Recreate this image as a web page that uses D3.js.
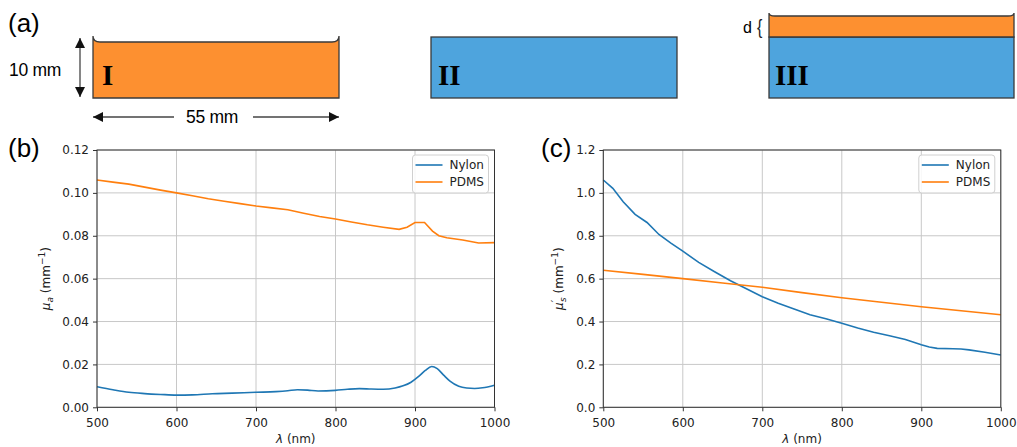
<!DOCTYPE html>
<html>
<head>
<meta charset="utf-8">
<script src="https://cdn.jsdelivr.net/npm/d3@7.9.0/dist/d3.min.js"></script>
<style>
  body { margin: 0; background: #fff; }
  svg { display: block; }
  .tick text { font-family: "DejaVu Sans", sans-serif; font-size: 12px; fill: #222; }
</style>
</head>
<body>
<svg id="fig" width="1017" height="447"></svg>
<script>
// wavelengths and values
const lamAbsNylon = [500, 520, 540, 560, 580, 600, 620, 645, 670, 700, 725, 740, 752, 765, 778, 800, 815, 830, 845, 860, 875, 885, 895, 905, 913, 921, 928, 936, 944, 955, 965, 975, 985, 1000];
const muaNylon = [0.0096, 0.0082, 0.0070, 0.0064, 0.0060, 0.0057, 0.0058, 0.0063, 0.0066, 0.0070, 0.0073, 0.0077, 0.0082, 0.0080, 0.0076, 0.0079, 0.0084, 0.0087, 0.0085, 0.0084, 0.0090, 0.0100, 0.0117, 0.0145, 0.0172, 0.0190, 0.0180, 0.0150, 0.0122, 0.0098, 0.0090, 0.0088, 0.0091, 0.0103];

const lamAbsPdms = [500, 520, 540, 560, 580, 600, 620, 640, 660, 680, 700, 720, 740, 760, 780, 800, 820, 840, 860, 880, 890, 900, 912, 922, 930, 940, 960, 980, 1000];
const muaPdms = [0.1060, 0.1050, 0.1041, 0.1027, 0.1013, 0.1000, 0.0987, 0.0973, 0.0961, 0.0950, 0.0939, 0.0930, 0.0921, 0.0905, 0.0890, 0.0878, 0.0864, 0.0851, 0.0840, 0.0830, 0.0840, 0.0862, 0.0862, 0.0822, 0.0800, 0.0791, 0.0780, 0.0766, 0.0768];

const lamScatNylon = [500, 512, 525, 540, 555, 570, 585, 600, 620, 640, 660, 680, 700, 720, 740, 760, 780, 800, 820, 840, 860, 880, 900, 910, 920, 940, 950, 960, 980, 1000];
const musNylon = [1.060, 1.021, 0.959, 0.900, 0.862, 0.806, 0.766, 0.728, 0.676, 0.632, 0.590, 0.553, 0.516, 0.485, 0.458, 0.432, 0.413, 0.392, 0.370, 0.350, 0.334, 0.316, 0.292, 0.281, 0.275, 0.273, 0.272, 0.268, 0.257, 0.244];

const lamScatPdms = [500, 550, 600, 650, 700, 750, 800, 850, 900, 950, 1000];
const musPdms = [0.639, 0.620, 0.600, 0.580, 0.560, 0.535, 0.511, 0.490, 0.469, 0.450, 0.432];

const xTicks = [500, 600, 700, 800, 900, 1000];
const yTicksB = [0, 0.02, 0.04, 0.06, 0.08, 0.10, 0.12];
const yTicksC = [0, 0.2, 0.4, 0.6, 0.8, 1.0, 1.2];
const seriesNames = ["Nylon", "PDMS"];
const seriesColors = ["#1f77b4", "#ff7f0e"];

const svg = d3.select("#fig");
const sans = "'Liberation Sans', Arial, sans-serif";

// ---------- panel (a): sample schematics ----------
const orange = "#fd9030", blue = "#4ea4dd", edge = "#3a3a3a";

svg.append("text").attr("x", 8).attr("y", 32).attr("font-family", sans)
  .attr("font-size", 26).text("(a)");

// sample I, top edge with a meniscus
svg.append("path")
  .attr("d", "M93,98 L93,36 Q93,42 100,42 L332,42 Q339,42 339,36 L339,98 Z")
  .attr("fill", orange).attr("stroke", edge).attr("stroke-width", 1.3);

// sample II
svg.append("rect").attr("x", 431).attr("y", 37).attr("width", 246).attr("height", 61)
  .attr("fill", blue).attr("stroke", edge).attr("stroke-width", 1.3);

// sample III: blue block with a thin orange layer on top
svg.append("rect").attr("x", 769).attr("y", 37).attr("width", 245).attr("height", 61)
  .attr("fill", blue).attr("stroke", edge).attr("stroke-width", 1.3);
svg.append("path")
  .attr("d", "M769,37 L769,13 Q769,16 775,16 L1008,16 Q1014,16 1014,13 L1014,37 Z")
  .attr("fill", orange).attr("stroke", edge).attr("stroke-width", 1.3);

const roman = [["I", 102], ["II", 438], ["III", 775]];
roman.forEach(([t, x]) => {
  svg.append("text").attr("x", x).attr("y", 85)
    .attr("font-family", "'Liberation Serif', 'Times New Roman', serif")
    .attr("font-weight", "bold").attr("font-size", 29).text(t);
});

// arrows
const defs = svg.append("defs");
defs.append("marker").attr("id", "head").attr("viewBox", "0 0 10 10")
  .attr("refX", 10).attr("refY", 5).attr("markerWidth", 10).attr("markerHeight", 10)
  .attr("markerUnits", "userSpaceOnUse").attr("orient", "auto-start-reverse")
  .append("path").attr("d", "M0,0 L10,5 L0,10 Z").attr("fill", "#111");

svg.append("line").attr("x1", 80).attr("y1", 38).attr("x2", 80).attr("y2", 97)
  .attr("stroke", "#444").attr("stroke-width", 1.3)
  .attr("marker-start", "url(#head)").attr("marker-end", "url(#head)");
svg.append("text").attr("x", 35).attr("y", 76).attr("text-anchor", "middle")
  .attr("font-family", sans).attr("font-size", 17.5).attr("letter-spacing", -0.3).text("10 mm");

svg.append("line").attr("x1", 174).attr("y1", 117).attr("x2", 93).attr("y2", 117)
  .attr("stroke", "#444").attr("stroke-width", 1.3).attr("marker-end", "url(#head)");
svg.append("line").attr("x1", 253).attr("y1", 117).attr("x2", 339).attr("y2", 117)
  .attr("stroke", "#444").attr("stroke-width", 1.3).attr("marker-end", "url(#head)");
svg.append("text").attr("x", 212).attr("y", 123).attr("text-anchor", "middle")
  .attr("font-family", sans).attr("font-size", 17.5).attr("letter-spacing", -0.3).text("55 mm");

svg.append("text").attr("x", 743).attr("y", 33).attr("font-family", sans)
  .attr("font-size", 16).text("d");
svg.append("text").attr("transform", "translate(757,34) scale(0.8,1)")
  .attr("font-family", sans).attr("fill", "#222")
  .attr("font-size", 20).text("{");

// ---------- panels (b) and (c) ----------
function drawPanel(opt) {
  const x = d3.scaleLinear().domain([500, 1000]).range([opt.left, opt.left + 397.5]);
  const y = d3.scaleLinear().domain([0, opt.ymax]).range([407.3, 150]);
  const g = svg.append("g");

  // grid
  g.append("g").selectAll("line").data(xTicks).join("line")
    .attr("x1", d => x(d)).attr("x2", d => x(d)).attr("y1", y(0)).attr("y2", y(opt.ymax))
    .attr("stroke", "#c8c8c8").attr("stroke-width", 1);
  g.append("g").selectAll("line").data(opt.yTicks).join("line")
    .attr("y1", d => y(d)).attr("y2", d => y(d)).attr("x1", x(500)).attr("x2", x(1000))
    .attr("stroke", "#c8c8c8").attr("stroke-width", 1);

  opt.series.forEach((s, i) => {
    const line = d3.line().x(d => x(d[0])).y(d => y(d[1])).curve(s.curve);
    g.append("path").datum(d3.zip(s.lam, s.val))
      .attr("d", line).attr("fill", "none")
      .attr("stroke", seriesColors[i]).attr("stroke-width", 1.6);
  });

  // axes
  const xAxis = g.append("g").attr("transform", `translate(0,${y(0)})`)
    .call(d3.axisBottom(x).tickValues(xTicks).tickFormat(d3.format("d")).tickSizeOuter(0).tickSize(4).tickPadding(4));
  const yAxis = g.append("g").attr("transform", `translate(${x(500)},0)`)
    .call(d3.axisLeft(y).tickValues(opt.yTicks).tickFormat(opt.fmt).tickSizeOuter(0).tickSize(4).tickPadding(4));
  [xAxis, yAxis].forEach(a => {
    a.select(".domain").remove();
    a.selectAll(".tick line").attr("stroke", "#333");
  });
  xAxis.selectAll(".tick text").attr("dy", "0.95em");

  g.append("rect").attr("x", x(500)).attr("y", y(opt.ymax))
    .attr("width", x(1000) - x(500)).attr("height", y(0) - y(opt.ymax))
    .attr("fill", "none").attr("stroke", "#333").attr("stroke-width", 1);

  // axis labels
  const xl = g.append("text").attr("x", (x(500) + x(1000)) / 2).attr("y", 443)
    .attr("text-anchor", "middle").attr("font-family", "'DejaVu Sans', sans-serif")
    .attr("font-size", 12).attr("fill", "#222");
  xl.append("tspan").attr("font-style", "italic").text("λ");
  xl.append("tspan").text(" (nm)");

  const yl = g.append("text")
    .attr("transform", `translate(${opt.ylabelX},${(y(0) + y(opt.ymax)) / 2}) rotate(-90)`)
    .attr("text-anchor", "middle").attr("font-family", "'DejaVu Sans', sans-serif")
    .attr("font-size", 12).attr("fill", "#222");
  opt.ylabel(yl);

  // legend
  const lx = x(1000) - 82, ly = 155;
  g.append("rect").attr("x", lx).attr("y", ly).attr("width", 76).attr("height", 38)
    .attr("rx", 3).attr("fill", "#fff").attr("fill-opacity", 0.85)
    .attr("stroke", "#d0d0d0").attr("stroke-width", 1);
  seriesNames.forEach((n, i) => {
    const yy = ly + 10 + i * 17;
    g.append("line").attr("x1", lx + 3).attr("x2", lx + 30).attr("y1", yy).attr("y2", yy)
      .attr("stroke", seriesColors[i]).attr("stroke-width", 1.6);
    g.append("text").attr("x", lx + 37).attr("y", yy + 4.3)
      .attr("font-family", "'DejaVu Sans', sans-serif").attr("font-size", 12)
      .attr("fill", "#222").text(n);
  });

  svg.append("text").attr("x", opt.tagX).attr("y", 157).attr("font-family", sans)
    .attr("font-size", 26).text(opt.tag);
}

drawPanel({
  left: 97, ymax: 0.12, yTicks: yTicksB, fmt: d3.format(".2f"), tag: "(b)", tagX: 8,
  ylabelX: 50,
  series: [{ lam: lamAbsNylon, val: muaNylon, curve: d3.curveMonotoneX },
           { lam: lamAbsPdms, val: muaPdms, curve: d3.curveLinear }],
  ylabel: t => {
    t.append("tspan").attr("font-style", "italic").text("μ");
    t.append("tspan").attr("font-style", "italic").attr("font-size", 9).attr("dy", 3).text("a");
    t.append("tspan").attr("dy", -3).text(" (mm");
    t.append("tspan").attr("font-size", 9).attr("dy", -5).text("−1");
    t.append("tspan").attr("dy", 5).text(")");
  }
});

drawPanel({
  left: 603.3, ymax: 1.2, yTicks: yTicksC, fmt: d3.format(".1f"), tag: "(c)", tagX: 541,
  ylabelX: 563,
  series: [{ lam: lamScatNylon, val: musNylon, curve: d3.curveLinear },
           { lam: lamScatPdms, val: musPdms, curve: d3.curveLinear }],
  ylabel: t => {
    t.append("tspan").attr("font-style", "italic").text("μ");
    t.append("tspan").attr("font-style", "italic").attr("font-size", 10).attr("dy", -4).text("′");
    t.append("tspan").attr("font-style", "italic").attr("font-size", 9).attr("dy", 7).attr("dx", -2).text("s");
    t.append("tspan").attr("dy", -3).text(" (mm");
    t.append("tspan").attr("font-size", 9).attr("dy", -5).text("−1");
    t.append("tspan").attr("dy", 5).text(")");
  }
});
</script>
</body>
</html>
